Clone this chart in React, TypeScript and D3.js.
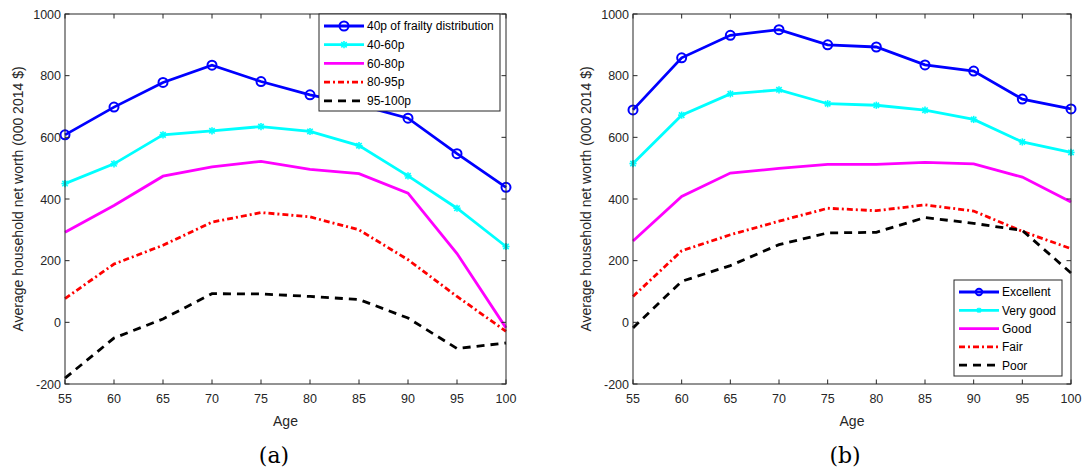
import React from "react";
import * as d3 from "d3";

const ages = [55, 60, 65, 70, 75, 80, 85, 90, 95, 100];
const yTicks = [-200, 0, 200, 400, 600, 800, 1000];

// panel (a): frailty percentiles
const frailLabels = ["40p of frailty distribution", "40-60p", "60-80p", "80-95p", "95-100p"];
const frail40 = [608, 698, 778, 834, 781, 738, 705, 662, 547, 438];
const frail4060 = [450, 514, 608, 621, 635, 619, 573, 475, 370, 246];
const frail6080 = [292, 379, 474, 504, 522, 496, 482, 419, 223, -18];
const frail8095 = [77, 189, 250, 325, 356, 342, 300, 203, 84, -29];
const frail95100 = [-181, -51, 11, 93, 92, 84, 74, 14, -85, -67];

// panel (b): self-reported health
const healthLabels = ["Excellent", "Very good", "Good", "Fair", "Poor"];
const excellent = [689, 858, 931, 949, 900, 893, 835, 815, 724, 692];
const veryGood = [515, 672, 741, 754, 709, 704, 688, 658, 585, 551];
const good = [264, 408, 484, 499, 512, 512, 519, 514, 471, 390];
const fair = [84, 232, 284, 328, 370, 362, 381, 361, 295, 239];
const poor = [-18, 133, 184, 252, 290, 292, 340, 321, 298, 160];

const styles = [
  { color: "#0000ff", dash: "", marker: "circle" },
  { color: "#00ffff", dash: "", marker: "star" },
  { color: "#ff00ff", dash: "", marker: "" },
  { color: "#ff0000", dash: "6,3,2,3", marker: "" },
  { color: "#000000", dash: "8,6", marker: "" },
];

const axisColor = "#262626";
const font = "'Liberation Sans', Arial, sans-serif";
const lw = 2.8;

function Marker({ kind, x, y, color, r = 4.5 }: { kind: string; x: number; y: number; color: string; r?: number }) {
  if (kind === "circle") {
    return <circle cx={x} cy={y} r={r} fill="none" stroke={color} strokeWidth={2} />;
  }
  if (kind === "star") {
    const s = r * 0.8;
    return (
      <g stroke={color} strokeWidth={1.6}>
        <line x1={x - s} y1={y} x2={x + s} y2={y} />
        <line x1={x} y1={y - s} x2={x} y2={y + s} />
        <line x1={x - s * 0.75} y1={y - s * 0.75} x2={x + s * 0.75} y2={y + s * 0.75} />
        <line x1={x - s * 0.75} y1={y + s * 0.75} x2={x + s * 0.75} y2={y - s * 0.75} />
      </g>
    );
  }
  return null;
}

function Panel({
  left,
  right,
  series,
  labels,
  legend,
  caption,
  captionX,
}: {
  left: number;
  right: number;
  series: number[][];
  labels: string[];
  legend: { x: number; y: number; w: number; h: number; step: number; r: number };
  caption: string;
  captionX: number;
}) {
  const top = 14;
  const bottom = 384;
  const x = d3.scaleLinear().domain([55, 100]).range([left, right]);
  const y = d3.scaleLinear().domain([-200, 1000]).range([bottom, top]);
  const line = d3
    .line<number>()
    .x((_, i) => x(ages[i]))
    .y((d) => y(d));
  const tl = 4.5;

  return (
    <g>
      {series.map((s, k) => (
        <g key={k}>
          <path
            d={line(s) || ""}
            fill="none"
            stroke={styles[k].color}
            strokeWidth={lw}
            strokeDasharray={styles[k].dash}
          />
          {s.map((v, i) => (
            <Marker key={i} kind={styles[k].marker} x={x(ages[i])} y={y(v)} color={styles[k].color} />
          ))}
        </g>
      ))}
      {/* box */}
      <rect x={left} y={top} width={right - left} height={bottom - top} fill="none" stroke={axisColor} strokeWidth={1} />
      {ages.map((a) => (
        <g key={a}>
          <line x1={x(a)} x2={x(a)} y1={bottom} y2={bottom - tl} stroke={axisColor} />
          <line x1={x(a)} x2={x(a)} y1={top} y2={top + tl} stroke={axisColor} />
          <text x={x(a)} y={bottom + 19} textAnchor="middle" fontSize={12.5} fill={axisColor} fontFamily={font}>
            {a}
          </text>
        </g>
      ))}
      {yTicks.map((t) => (
        <g key={t}>
          <line x1={left} x2={left + tl} y1={y(t)} y2={y(t)} stroke={axisColor} />
          <line x1={right} x2={right - tl} y1={y(t)} y2={y(t)} stroke={axisColor} />
          <text x={left - 4} y={y(t) + 4.5} textAnchor="end" fontSize={12.5} fill={axisColor} fontFamily={font}>
            {t}
          </text>
        </g>
      ))}
      <text
        x={(left + right) / 2}
        y={bottom + 42}
        textAnchor="middle"
        fontSize={14}
        fill={axisColor}
        fontFamily={font}
      >
        Age
      </text>
      <text
        transform={`translate(${left - 42},${(top + bottom) / 2}) rotate(-90)`}
        textAnchor="middle"
        fontSize={14}
        fill={axisColor}
        fontFamily={font}
      >
        Average household net worth (000 2014 $)
      </text>
      {/* legend */}
      <g>
        <rect x={legend.x} y={legend.y} width={legend.w} height={legend.h} fill="#ffffff" stroke={axisColor} strokeWidth={1} />
        {labels.map((lab, k) => {
          const ly = legend.y + 12 + k * legend.step;
          return (
            <g key={lab}>
              <line
                x1={legend.x + 5}
                x2={legend.x + 45}
                y1={ly}
                y2={ly}
                stroke={styles[k].color}
                strokeWidth={lw}
                strokeDasharray={styles[k].dash}
              />
              <Marker kind={styles[k].marker} x={legend.x + 25} y={ly} color={styles[k].color} r={legend.r} />
              <text x={legend.x + 48} y={ly + 4.3} fontSize={12} fill="#000" fontFamily={font}>
                {lab}
              </text>
            </g>
          );
        })}
      </g>
      <text
        x={captionX}
        y={463}
        textAnchor="middle"
        fontSize={22}
        fill="#000"
        fontFamily="'DejaVu Serif', 'Liberation Serif', serif"
        style={{ fontWeight: 300 }}
      >
        {caption}
      </text>
    </g>
  );
}

export default function App() {
  return (
    <svg
      width={1084}
      height={472}
      style={{ position: "absolute", left: 0, top: 0, background: "#fff" }}
    >
      <Panel
        left={65}
        right={506}
        series={[frail40, frail4060, frail6080, frail8095, frail95100]}
        labels={frailLabels}
        legend={{ x: 319, y: 14, w: 181, h: 97, step: 18.7, r: 4.5 }}
        caption="(a)"
        captionX={274}
      />
      <Panel
        left={633}
        right={1071}
        series={[excellent, veryGood, good, fair, poor]}
        labels={healthLabels}
        legend={{ x: 954, y: 280, w: 108, h: 96, step: 18.3, r: 3.2 }}
        caption="(b)"
        captionX={845}
      />
    </svg>
  );
}
